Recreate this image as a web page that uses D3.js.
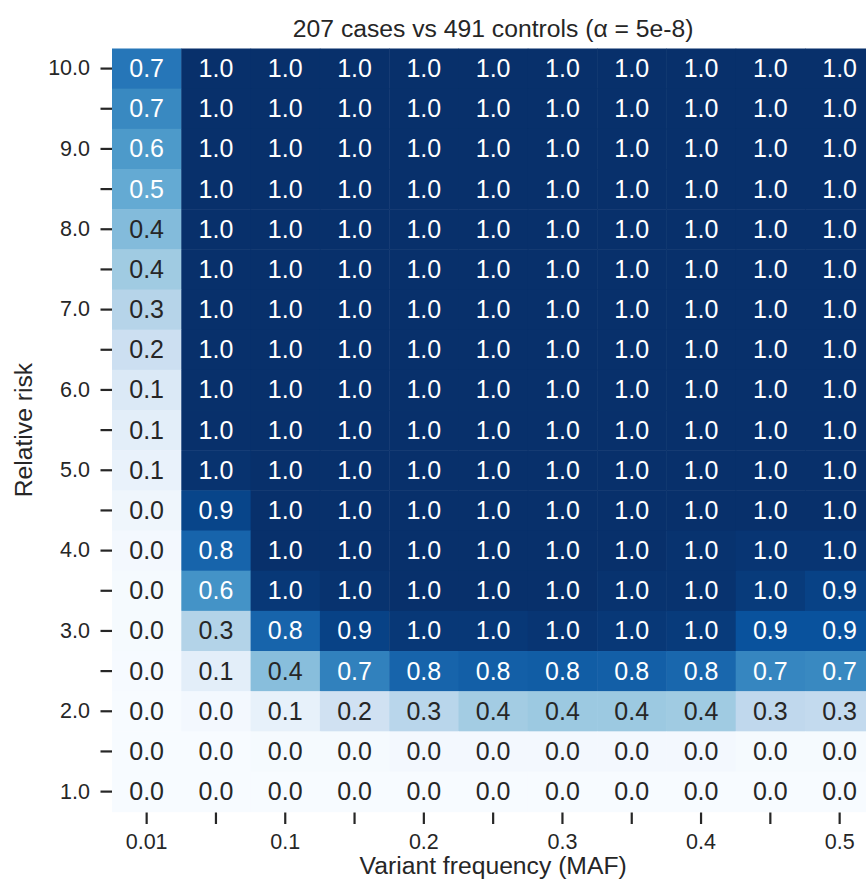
<!DOCTYPE html>
<html>
<head>
<meta charset="utf-8">
<script src="https://cdn.jsdelivr.net/npm/d3@7"></script>
<style>
  body { margin: 0; background: #fff; }
  svg text { font-family: "Liberation Sans", Arial, "DejaVu Sans", sans-serif; fill: #262626; }
</style>
</head>
<body>
<div class="chart"></div>
<script>
// variant frequency (columns) and relative risk (rows, top to bottom)
var mafValues = [0.01, 0.05, 0.1, 0.15, 0.2, 0.25, 0.3, 0.35, 0.4, 0.45, 0.5];
var mafTickLabels = ["0.01", "", "0.1", "", "0.2", "", "0.3", "", "0.4", "", "0.5"];
var rrValues = [10.0, 9.5, 9.0, 8.5, 8.0, 7.5, 7.0, 6.5, 6.0, 5.5, 5.0, 4.5, 4.0, 3.5, 3.0, 2.5, 2.0, 1.5, 1.0];
var rrTickLabels = ["10.0", "", "9.0", "", "8.0", "", "7.0", "", "6.0", "", "5.0", "", "4.0", "", "3.0", "", "2.0", "", "1.0"];

// power, one row per relative risk (same order as rrValues)
var power = [
  [0.73, 1, 1, 1, 1, 1, 1, 1, 1, 1, 1],
  [0.66, 1, 1, 1, 1, 1, 1, 1, 1, 1, 1],
  [0.59, 1, 1, 1, 1, 1, 1, 1, 1, 1, 1],
  [0.52, 1, 1, 1, 1, 1, 1, 1, 1, 1, 1],
  [0.44, 1, 1, 1, 1, 1, 1, 1, 1, 1, 1],
  [0.37, 1, 1, 1, 1, 1, 1, 1, 1, 1, 1],
  [0.30, 1, 1, 1, 1, 1, 1, 1, 1, 1, 1],
  [0.22, 1, 1, 1, 1, 1, 1, 1, 1, 1, 1],
  [0.14, 1, 1, 1, 1, 1, 1, 1, 1, 1, 1],
  [0.10, 1, 1, 1, 1, 1, 1, 1, 1, 1, 1],
  [0.07, 0.99, 1, 1, 1, 1, 1, 1, 1, 1, 1],
  [0.04, 0.92, 1, 1, 1, 1, 1, 1, 1, 1, 1],
  [0.02, 0.80, 1, 1, 1, 1, 1, 1, 0.99, 0.98, 0.98],
  [0.01, 0.62, 0.97, 0.99, 1, 1, 1, 0.99, 0.99, 0.96, 0.93],
  [0.01, 0.31, 0.80, 0.93, 0.97, 0.97, 0.98, 0.97, 0.96, 0.87, 0.87],
  [0.005, 0.10, 0.43, 0.69, 0.80, 0.82, 0.83, 0.82, 0.79, 0.67, 0.66],
  [0, 0.02, 0.08, 0.20, 0.29, 0.36, 0.38, 0.38, 0.37, 0.27, 0.26],
  [0, 0, 0.01, 0.01, 0.02, 0.02, 0.02, 0.02, 0.02, 0.01, 0.01],
  [0, 0, 0, 0, 0, 0, 0, 0, 0, 0, 0]
];

var blues = ["#f7fbff", "#deebf7", "#c6dbef", "#9ecae1", "#6baed6", "#4292c6", "#2171b5", "#08519c", "#08306b"];

var width = 866, height = 888;
var plotLeft = 112, plotTop = 48.5, plotRight = 874.3, plotBottom = 811.7;

var svg = d3.select(".chart").append("svg")
  .attr("width", width).attr("height", height);

var x = d3.scaleBand().domain(mafValues).range([plotLeft, plotRight]);
var y = d3.scaleBand().domain(rrValues).range([plotTop, plotBottom]);
var color = d3.scaleLinear()
  .domain(blues.map(function(d, i){ return i / (blues.length - 1); }))
  .range(blues)
  .interpolate(d3.interpolateRgb)
  .clamp(true);

// flatten to cells
var cells = [];
rrValues.forEach(function(rr, i){
  mafValues.forEach(function(maf, j){
    cells.push({rr: rr, maf: maf, v: power[i][j]});
  });
});

function textColor(c){
  var rgb = d3.rgb(c);
  var lin = [rgb.r, rgb.g, rgb.b].map(function(v){
    v = v / 255;
    return v <= 0.03928 ? v / 12.92 : Math.pow((v + 0.055) / 1.055, 2.4);
  });
  var lum = 0.2126 * lin[0] + 0.7152 * lin[1] + 0.0722 * lin[2];
  return lum > 0.408 ? "#262626" : "#ffffff";
}

var g = svg.append("g");
g.selectAll("rect").data(cells).enter().append("rect")
  .attr("x", function(d){ return x(d.maf); })
  .attr("y", function(d){ return y(d.rr); })
  .attr("width", x.bandwidth() + 0.5)
  .attr("height", y.bandwidth() + 0.5)
  .attr("fill", function(d){ return color(d.v); });

var fmt = d3.format(".1f");
g.selectAll("text.annot").data(cells).enter().append("text")
  .attr("class", "annot")
  .attr("x", function(d){ return x(d.maf) + x.bandwidth() / 2; })
  .attr("y", function(d){ return y(d.rr) + y.bandwidth() / 2 + 8.5; })
  .attr("text-anchor", "middle")
  .style("font-size", "25px")
  .style("fill", function(d){ return textColor(color(d.v)); })
  .text(function(d){ return fmt(d.v); });

// axes
var xAxis = d3.axisBottom(x).tickSize(11.5).tickPadding(9.5)
  .tickFormat(function(d, i){ return mafTickLabels[i]; });
var yAxis = d3.axisLeft(y).tickSize(11.5).tickPadding(10.5)
  .tickFormat(function(d, i){ return rrTickLabels[i]; });

var gx = svg.append("g").attr("transform", "translate(0," + (plotBottom + 0.8) + ")").call(xAxis);
var gy = svg.append("g").attr("transform", "translate(" + plotLeft + ",0)").call(yAxis);

[gx, gy].forEach(function(ax){
  ax.select(".domain").remove();
  ax.selectAll(".tick line").attr("stroke", "#262626").attr("stroke-width", 2.2);
  ax.selectAll(".tick text").style("font-size", "21.5px").attr("fill", "#262626");
});

// labels
svg.append("text")
  .attr("x", (plotLeft + plotRight) / 2).attr("y", 36.5)
  .attr("text-anchor", "middle")
  .style("font-size", "24.7px")
  .text("207 cases vs 491 controls (α = 5e-8)");

svg.append("text")
  .attr("x", (plotLeft + plotRight) / 2).attr("y", 874)
  .attr("text-anchor", "middle")
  .style("font-size", "24.7px")
  .text("Variant frequency (MAF)");

svg.append("text")
  .attr("transform", "translate(32," + ((plotTop + plotBottom) / 2) + ") rotate(-90)")
  .attr("text-anchor", "middle")
  .style("font-size", "24.7px")
  .text("Relative risk");
</script>
</body>
</html>
